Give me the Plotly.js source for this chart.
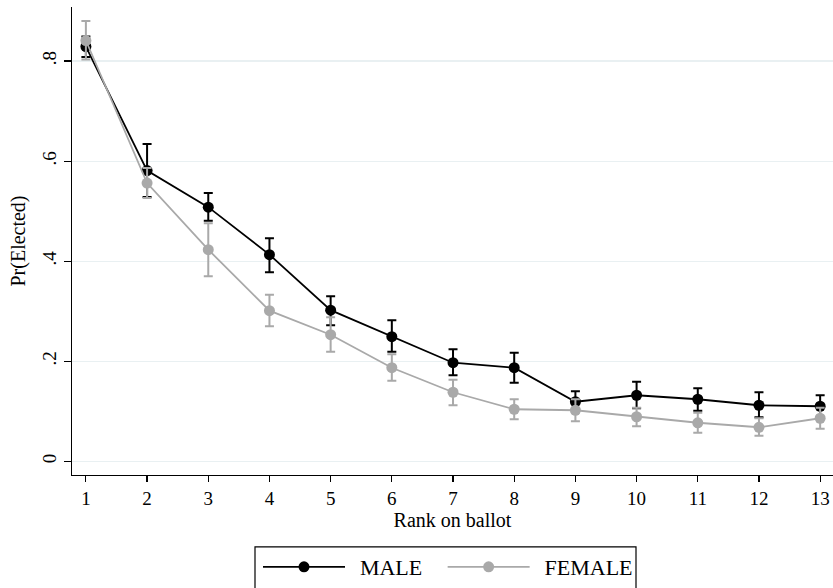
<!DOCTYPE html>
<html>
<head>
<meta charset="utf-8">
<script src="https://cdn.plot.ly/plotly-3.0.1.min.js"></script>
<style>html,body{margin:0;padding:0;background:#fff;}#chart{width:833px;height:588px;}</style>
</head>
<body>
<div id="chart"></div>
<script>
const rank = [1,2,3,4,5,6,7,8,9,10,11,12,13];
const tickLabels = ["1","2","3","4","5","6","7","8","9","10","11","12","13"];

const maleP    = [0.829,0.581,0.508,0.413,0.302,0.249,0.197,0.187,0.119,0.132,0.124,0.112,0.110];
const maleHi   = [0.849,0.634,0.536,0.446,0.330,0.282,0.224,0.217,0.140,0.159,0.146,0.138,0.132];
const maleLo   = [0.808,0.528,0.481,0.378,0.272,0.219,0.172,0.157,0.098,0.106,0.101,0.088,0.088];

const femaleP  = [0.841,0.556,0.423,0.301,0.253,0.187,0.138,0.104,0.102,0.089,0.077,0.068,0.086];
const femaleHi = [0.880,0.586,0.476,0.333,0.288,0.214,0.163,0.124,0.124,0.107,0.097,0.086,0.107];
const femaleLo = [0.803,0.526,0.370,0.270,0.219,0.161,0.112,0.084,0.080,0.070,0.057,0.051,0.065];

const seriesNames = ['MALE', 'FEMALE'];

const diff = (a,b) => a.map((v,i)=>Math.abs(v-b[i]));

const FONT = 'Liberation Serif, Times New Roman, serif';
const PAD = '\u00a0\u2009';
const TAIL = '\u00a0\u00a0\u2009';

const traces = [
  {
    x: rank, y: maleP, name: PAD + seriesNames[0] + TAIL, type: 'scatter', mode: 'lines+markers',
    line: {color: '#000000', width: 1.8},
    marker: {color: '#000000', size: 11},
    error_y: {type: 'data', symmetric: false, array: diff(maleHi, maleP), arrayminus: diff(maleP, maleLo),
              color: '#000000', thickness: 2, width: 4.5}
  },
  {
    x: rank, y: femaleP, name: PAD + seriesNames[1], type: 'scatter', mode: 'lines+markers',
    line: {color: '#a9a9a9', width: 1.8},
    marker: {color: '#a9a9a9', size: 11},
    error_y: {type: 'data', symmetric: false, array: diff(femaleHi, femaleP), arrayminus: diff(femaleP, femaleLo),
              color: '#a9a9a9', thickness: 2, width: 4.5}
  }
];

const PL = 72, PT = 7, PW = 761, PH = 469;
const px2x = p => (p - PL) / PW;
const px2y = p => -(p - (PT + PH)) / PH;

const layout = {
  width: 833, height: 588,
  margin: {l: PL, r: 0, t: PT, b: 112},
  paper_bgcolor: '#ffffff', plot_bgcolor: '#ffffff',
  font: {family: FONT, size: 20, color: '#000000'},
  showlegend: true,
  xaxis: {
    range: [0.773, 13.21], tickvals: rank, ticktext: tickLabels,
    showgrid: false, zeroline: false, showline: true, linecolor: '#000', linewidth: 1.2,
    ticks: 'outside', ticklen: 6, tickwidth: 1.2, tickcolor: '#000',
    tickfont: {family: FONT, size: 19, color: '#000'},
    title: {text: 'Rank on ballot', font: {family: FONT, size: 20, color: '#000'}, standoff: 2}
  },
  yaxis: {
    range: [-0.0274, 0.908], tickvals: [0,0.2,0.4,0.6,0.8], ticktext: ['0','.2','.4','.6','.8'],
    tickangle: -90,
    showgrid: true, gridcolor: '#e9f0f2', gridwidth: 1.2, zeroline: false,
    showline: true, linecolor: '#000', linewidth: 1.2,
    ticks: 'outside', ticklen: 7, tickwidth: 1.2, tickcolor: '#000',
    tickfont: {family: FONT, size: 19, color: '#000'},
    title: {text: 'Pr(Elected)', font: {family: FONT, size: 20, color: '#000000'}, standoff: 8}
  },
  legend: {
    orientation: 'h', x: px2x(258), xanchor: 'left', y: px2y(568), yanchor: 'middle',
    borderwidth: 0, bgcolor: 'rgba(0,0,0,0)',
    font: {family: FONT, size: 22, color: '#000'}, itemwidth: 82
  },
  shapes: [
    {type: 'rect', xref: 'paper', yref: 'paper', x0: px2x(255), x1: px2x(636), y0: px2y(548), y1: px2y(605),
     line: {color: '#000', width: 1.2}, fillcolor: 'rgba(0,0,0,0)', layer: 'below'}
  ]
};

Plotly.newPlot('chart', traces, layout, {displayModeBar: false, staticPlot: true});
</script>
</body>
</html>
